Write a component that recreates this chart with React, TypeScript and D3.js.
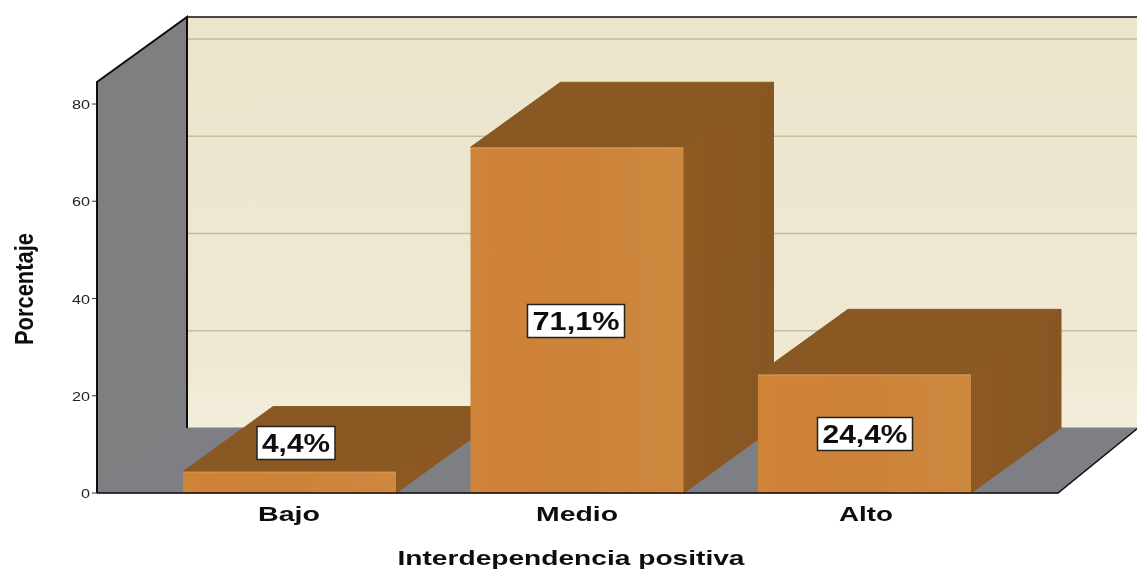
import React from "react";
import * as d3 from "d3";

const categories = ["Bajo", "Medio", "Alto"];
const values = [4.4, 71.1, 24.4];
const valueLabels = ["4,4%", "71,1%", "24,4%"];
const yTicks = [0, 20, 40, 60, 80];

const W = 1137, H = 569;
const DX = 90, DY = -65;
const y = d3.scaleLinear().domain([0, 80]).range([493, 104]);
const x = d3.scaleBand<string>().domain(categories).range([183, 971]).paddingInner(0.259).paddingOuter(0);
const line = d3.line<[number, number]>();
const poly = (p: [number, number][]) => line(p) + "Z";
const yMax = y.invert(82);

const labelBoxes = [
  { cx: 296, cy: 443, w: 78, h: 33 },
  { cx: 576, cy: 321, w: 97, h: 33 },
  { cx: 865, cy: 434, w: 95, h: 33 },
];
const labelLens = [68, 87, 85];
const catLens = [62, 82, 54];

export default function App() {
  const y0 = y(0), yT = y(yMax);
  return (
    <svg width={W} height={H} style={{ position: "absolute", left: 0, top: 0, background: "#fff" }} fontFamily="'Liberation Sans', Arial, sans-serif">
      <defs>
        <filter id="soft" x="-2%" y="-2%" width="104%" height="104%"><feGaussianBlur stdDeviation="0.7" /></filter>
        <filter id="softText" x="-5%" y="-5%" width="110%" height="110%"><feGaussianBlur stdDeviation="0.35" /></filter>
        <linearGradient id="wall" x1="0" x2="0" y1="0" y2="1">
          <stop offset="0" stopColor="#ECE5CC" /><stop offset="0.85" stopColor="#EFE9D3" /><stop offset="1" stopColor="#F3EEDC" />
        </linearGradient>
        <linearGradient id="front" x1="0" x2="1" y1="0" y2="0">
          <stop offset="0" stopColor="#CF8338" /><stop offset="0.5" stopColor="#CC8238" /><stop offset="1" stopColor="#CE893F" />
        </linearGradient>
        <linearGradient id="side" x1="0" x2="1" y1="0" y2="0">
          <stop offset="0" stopColor="#8E5A22" /><stop offset="1" stopColor="#875720" />
        </linearGradient>
      </defs>
      <g filter="url(#soft)">
        <rect x={187} y={17} width={W - 187} height={428 - 17} fill="url(#wall)" />
        {yTicks.filter(t => t > 0).map(t => (
          <line key={t} x1={187} x2={W} y1={y(t) + DY} y2={y(t) + DY} stroke="#C4BDA2" strokeWidth={1.4} />
        ))}
        <path d={poly([[97, y0], [187, y0 + DY], [W + 1, y0 + DY], [1058, y0]])} fill="#7E7F84" stroke="#7E7F84" strokeWidth={1} />
        <path d={poly([[97, yT], [187, yT + DY], [187, y0 + DY], [97, y0]])} fill="#7F7F82" stroke="#7F7F82" strokeWidth={1} />
        {categories.map((c, i) => {
          const x0 = x(c)!, x1 = x0 + x.bandwidth(), top = y(values[i]);
          return (
            <g key={c}>
              <path d={poly([[x0, top], [x0 + DX, top + DY], [x1 + DX, top + DY], [x1, top]])} fill="#8A5820" stroke="#8A5820" strokeWidth={1} />
              <path d={poly([[x1, top], [x1 + DX, top + DY], [x1 + DX, y0 + DY], [x1, y0]])} fill="url(#side)" stroke="#885720" strokeWidth={1} />
              <rect x={x0} y={top} width={x.bandwidth()} height={y0 - top} fill="url(#front)" />
              <rect x={x0} y={top} width={x.bandwidth()} height={2} fill="#D9A468" opacity={0.35} />
            </g>
          );
        })}
        <path d={`M97 ${y0}V${yT}L187 ${yT + DY}V${y0 + DY}`} fill="none" stroke="#111" strokeWidth={2} />
        <path d={`M187 ${yT + DY}H${W}`} fill="none" stroke="#111" strokeWidth={1.6} />
        <path d={`M97 ${y0}H1058L${W + 1} ${y0 + DY}`} fill="none" stroke="#111" strokeWidth={1.6} />
      </g>
      <g filter="url(#softText)">
        {yTicks.map(t => (
          <g key={t}>
            <line x1={92} x2={97} y1={y(t)} y2={y(t)} stroke="#333" strokeWidth={1} />
            <text x={90} y={y(t) + 5} textAnchor="end" fontSize={13} fill="#222" textLength={t === 0 ? 9 : 18} lengthAdjust="spacingAndGlyphs">{t}</text>
          </g>
        ))}
        {categories.map((c, i) => {
          const cx = [289, 577, 866][i];
          return (
            <text key={c} x={cx} y={521} textAnchor="middle" fontSize={21} fontWeight="bold" fill="#111" textLength={catLens[i]} lengthAdjust="spacingAndGlyphs">{c}</text>
          );
        })}
        <text x={571} y={565} textAnchor="middle" fontSize={21} fontWeight="bold" fill="#111" textLength={347} lengthAdjust="spacingAndGlyphs">Interdependencia positiva</text>
        <text transform="translate(33,289) rotate(-90)" textAnchor="middle" fontSize={25} fontWeight="bold" fill="#111" textLength={112} lengthAdjust="spacingAndGlyphs">Porcentaje</text>
        {valueLabels.map((l, i) => {
          const b = labelBoxes[i];
          return (
            <g key={l}>
              <rect x={b.cx - b.w / 2} y={b.cy - b.h / 2} width={b.w} height={b.h} fill="#fff" stroke="#222" strokeWidth={1.5} />
              <text x={b.cx} y={b.cy + 9} textAnchor="middle" fontSize={25} fontWeight="bold" fill="#111" textLength={labelLens[i]} lengthAdjust="spacingAndGlyphs">{l}</text>
            </g>
          );
        })}
      </g>
    </svg>
  );
}
